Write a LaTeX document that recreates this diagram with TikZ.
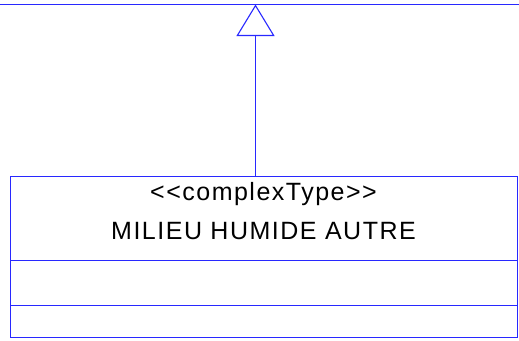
\documentclass[tikz,border=0pt]{standalone}
\usepackage{fontspec}
\setmainfont{Liberation Sans}[LetterSpace=6, Ligatures=TeXOff]
\usetikzlibrary{arrows.meta}
\definecolor{umlblue}{RGB}{40,40,255}
\tikzset{
  umlline/.style={draw=umlblue, line width=1.1pt},
  classbox/.style={umlline, rectangle, minimum width=507pt, minimum height=161.5pt, inner sep=0pt, anchor=north west},
  umltext/.style={font=\fontsize{25}{30}\selectfont, inner sep=0pt, anchor=base},
  gen/.style={umlline, -{Triangle[open, length=31.5pt, width=38pt, line width=1.1pt]}}
}
\begin{document}
\begin{tikzpicture}[x=1pt, y=-1pt]
  \useasboundingbox (0,0) rectangle (519,340);
  \coordinate (lineL) at (0,4.5);
  \coordinate (lineR) at (519,4.5);
  \coordinate (apex) at (255.5,4.5);
  \draw[umlline] (lineL) -- (lineR);
  \node[classbox] (cls) at (10,175.5) {};
  \coordinate (d1L) at (10,260.5);
  \coordinate (d1R) at (517,260.5);
  \coordinate (d2L) at (10,305.5);
  \coordinate (d2R) at (517,305.5);
  \draw[umlline] (d1L) -- (d1R);
  \draw[umlline] (d2L) -- (d2R);
  \node[umltext] (stereo) at (263.5,200) {<{}<complexType>{}>};
  \node[umltext] (name) at (263.5,239.3) {MILIEU HUMIDE AUTRE};
  \draw[gen] (cls.north -| apex) -- (apex);
\end{tikzpicture}
\end{document}
